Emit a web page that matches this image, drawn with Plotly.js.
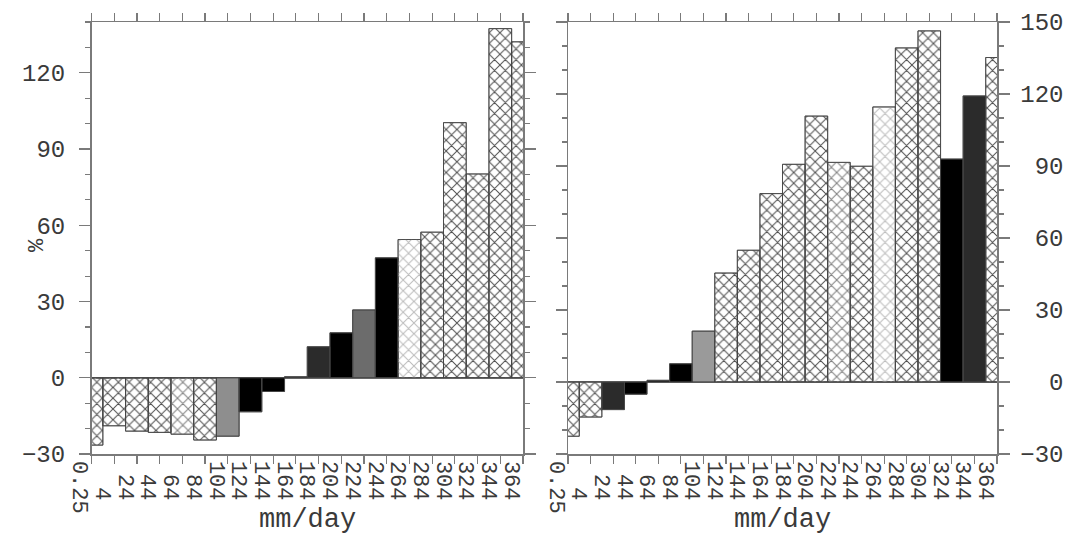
<!DOCTYPE html>
<html>
<head>
<meta charset="utf-8">
<script src="https://cdn.plot.ly/plotly-3.0.1.min.js"></script>
<style>html,body{margin:0;padding:0;background:#fff;}#chart{width:1066px;height:534px;}</style>
</head>
<body>
<div id="chart"></div>
<script>
// ---- data ----
const binLabels = ['0.25','4','24','44','64','84','104','124','144','164','184','204','224','244','264','284','304','324','344','364'];
const leftValues  = [-26.5,-18.9,-21,-21.5,-22.2,-24.5,-23,-13.4,-5.4,0.4,12.2,17.7,26.7,47.2,54.4,57.3,100.4,80.2,137.4,132.2];
const rightValues = [-22.6,-14.6,-11.5,-5.1,0.7,7.6,21.2,45.4,54.9,78.5,90.7,110.8,91.5,89.9,114.6,139.2,146.3,92.9,119.2,135.2];
// style keys per bar: p = cross-hatch, pl = lighter hatch, pv = very light hatch,
// k = black, d = dark grey, g = grey, g2 = darker grey, lg = light grey
const leftStyle  = ['p','p','p','p','pl','p','g','k','k','k','d','k','g2','k','pv','p','p','p','p','p'];
const rightStyle = ['p','p','d','k','k','k','lg','p','p','p','p','p','pl','p','pv','p','p','k','d','p'];
const leftTicks  = [-30,0,30,60,90,120];
const rightTicks = [-30,0,30,60,90,120,150];

const idx = binLabels.map((_, i) => i);
const NB = '\u00a0';
const pad = (s, n) => { let t = String(s); while (t.length < n) t = NB + t; return t; };
const fmt = v => v < 0 ? '\u2212' + Math.abs(v) : String(v);
const xTickText = binLabels.map(s => pad(s, 3));
const rightTickText = rightTicks.map(v => pad(fmt(v), 3));

const solid = {k:'#000000', d:'#2b2b2b', g:'#8e8e8e', g2:'#6c6c6c', lg:'#9a9a9a'};
const hatchFg = {p:'#505050', pl:'#808080', pv:'#bcbcbc'};

function traces(values, styles, xa, ya, tag) {
  const isP = styles.map(s => s in hatchFg);
  const base = {
    type:'bar', uid: 'base' + tag, x: idx, y: values, width: 1, xaxis: xa, yaxis: ya,
    hoverinfo:'skip', showlegend:false,
    marker:{
      color: styles.map(s => s in hatchFg ? '#ffffff' : solid[s]),
      line:{color:'#444', width:0.8},
      pattern:{
        shape: isP.map(p => p ? '+' : ''),
        fgcolor: styles.map(s => hatchFg[s] || '#000'),
        bgcolor: styles.map(s => s in hatchFg ? '#ffffff' : solid[s]),
        size: 7.6, solidity: 0.2, fillmode:'replace'
      }
    }
  };
  const over = {
    type:'bar', uid: 'over' + tag, x: idx, y: values, width: 1, xaxis: xa, yaxis: ya,
    hoverinfo:'skip', showlegend:false, opacity: 0.999,
    marker:{
      color: 'rgba(255,255,255,0)',
      line:{color:'#444', width:0.8},
      pattern:{
        shape: isP.map(p => p ? 'x' : ''),
        fgcolor: styles.map(s => hatchFg[s] || 'rgba(0,0,0,0)'),
        bgcolor: styles.map(() => 'rgba(255,255,255,0)'),
        size: 7.6, solidity: 0.25, fillmode:'replace'
      }
    }
  };
  return [base, over];
}

const data = [...traces(leftValues, leftStyle, 'x', 'y', 'L'), ...traces(rightValues, rightStyle, 'x2', 'y2', 'R')];

const axCol = '#7a7a7a';
const txtCol = '#3a3a3a';
const FONT = 'Liberation Mono, DejaVu Sans Mono, monospace';

function xAxis(domain, anchor) {
  return {
    domain, anchor, range:[0, 19], tickmode:'array', tickvals: idx, ticktext: xTickText,
    tickangle: 90, ticks:'outside', ticklen:8, tickwidth:1.2, tickcolor:axCol,
    showline:true, linecolor:axCol, linewidth:1.5, mirror:'allticks',
    showgrid:false, zeroline:false, automargin:false, fixedrange:true,
    ticklabelshift:-11, ticklabelstandoff:-7,
    tickfont:{family:FONT, size:22, color:txtCol}
  };
}

function yAxis(range, anchor, side, tickvals, ticktext, standoff) {
  return {
    domain:[80/534, 512/534], anchor, side, range,
    tickmode:'array', tickvals, ticktext,
    ticks:'outside', ticklen:11, tickwidth:1.2, tickcolor:axCol,
    minor:{tickmode:'linear', tick0:0, dtick:10, ticks:'outside', ticklen:5, tickwidth:1.2, tickcolor:axCol},
    showline:true, linecolor:axCol, linewidth:1.5, mirror:'allticks',
    showgrid:false, zeroline:true, zerolinecolor:axCol, zerolinewidth:1.5,
    automargin:false, fixedrange:true, ticklabelstandoff:standoff,
    tickfont:{family:FONT, size:24, color:txtCol}
  };
}

const layout = {
  width:1066, height:534, margin:{l:0, r:0, t:0, b:0},
  paper_bgcolor:'#ffffff', plot_bgcolor:'#ffffff',
  barmode:'overlay', bargap:0, showlegend:false,
  xaxis: xAxis([91.5/1066, 523/1066], 'y'),
  xaxis2: xAxis([568/1066, 997/1066], 'y2'),
  yaxis: yAxis([-30, 140], 'x', 'left', leftTicks, leftTicks.map(fmt), 9),
  yaxis2: yAxis([-30, 150], 'x2', 'right', rightTicks, rightTickText, 6),
  annotations:[
    {text:'%', xref:'paper', yref:'paper', x:37/1066, y:(534-245)/534, textangle:-90,
     showarrow:false, xanchor:'center', yanchor:'middle', font:{family:FONT, size:22, color:txtCol}},
    {text:'mm/day', xref:'x domain', yref:'paper', x:0.5, y:-0.004, showarrow:false,
     xanchor:'center', yanchor:'bottom', borderpad:0, font:{family:FONT, size:27, color:txtCol}},
    {text:'mm/day', xref:'x2 domain', yref:'paper', x:0.5, y:-0.004, showarrow:false,
     xanchor:'center', yanchor:'bottom', borderpad:0, font:{family:FONT, size:27, color:txtCol}}
  ]
};

Plotly.newPlot('chart', data, layout, {staticPlot:true, displayModeBar:false});
</script>
</body>
</html>
